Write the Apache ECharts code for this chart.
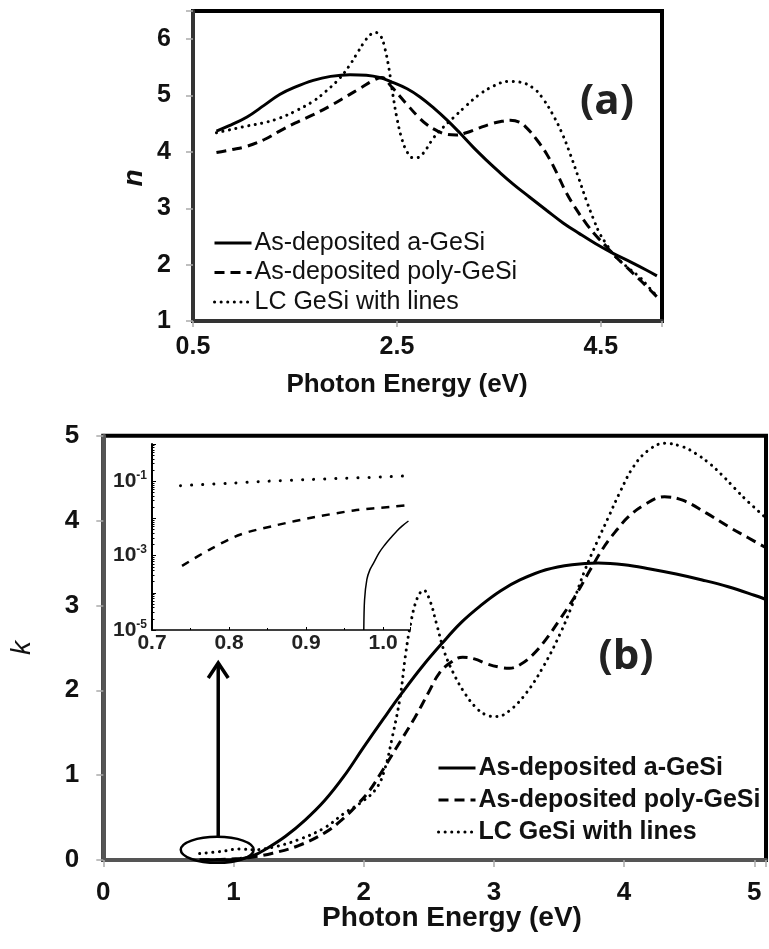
<!DOCTYPE html>
<html><head><meta charset="utf-8">
<script src="https://cdn.jsdelivr.net/npm/echarts@6/dist/echarts.min.js"></script>
<style>html,body{margin:0;padding:0;background:#fff}#c{width:769px;height:949px}</style>
</head><body><div id="c"></div>
<script>
// ---------- Series names ----------
const names = ['As-deposited a-GeSi', 'As-deposited poly-GeSi', 'LC GeSi with lines'];

// ---------- Panel (a): refractive index n ----------
const nE_a = [0.73,0.85,1.03,1.2,1.35,1.5,1.68,1.85,2.04,2.2,2.33,2.45,2.6,2.73,2.86,3.0,3.12,3.25,3.38,3.5,3.64,3.8,3.97,4.13,4.29,4.45,4.62,4.8,4.95,5.05];
const nV_a = [4.37,4.46,4.62,4.83,5.02,5.15,5.27,5.34,5.37,5.36,5.32,5.24,5.12,4.97,4.78,4.55,4.33,4.08,3.85,3.65,3.43,3.2,2.96,2.74,2.55,2.37,2.2,2.04,1.9,1.8];
const nE_p = [0.73,0.88,1.03,1.2,1.35,1.5,1.68,1.85,2.01,2.15,2.27,2.35,2.45,2.6,2.7,2.79,2.9,2.99,3.08,3.18,3.3,3.41,3.52,3.61,3.7,3.77,3.87,3.97,4.07,4.16,4.26,4.36,4.46,4.56,4.65,4.75,4.9,5.05];
const nV_p = [3.99,4.04,4.10,4.22,4.37,4.51,4.66,4.82,4.99,5.14,5.27,5.32,5.15,4.84,4.64,4.49,4.37,4.31,4.30,4.34,4.42,4.49,4.54,4.56,4.53,4.43,4.22,3.96,3.62,3.28,2.98,2.72,2.5,2.31,2.13,1.96,1.7,1.43];
const nE_l = [0.73,0.88,1.03,1.2,1.35,1.5,1.68,1.8,1.94,2.03,2.1,2.18,2.24,2.29,2.34,2.38,2.42,2.46,2.5,2.55,2.6,2.65,2.7,2.76,2.86,2.95,3.05,3.18,3.31,3.45,3.59,3.7,3.84,3.93,4.03,4.12,4.2,4.28,4.36,4.43,4.49,4.56,4.62,4.75,4.88,4.97,5.05];
const nV_l = [4.34,4.40,4.46,4.52,4.60,4.72,4.90,5.07,5.31,5.52,5.72,5.95,6.08,6.12,6.06,5.85,5.5,5.02,4.6,4.22,4.0,3.9,3.9,3.98,4.25,4.43,4.60,4.82,5.02,5.17,5.25,5.24,5.13,4.95,4.66,4.33,3.96,3.55,3.13,2.8,2.55,2.35,2.19,1.97,1.78,1.6,1.44];
const nXTicks = [0.5, 2.5, 4.5];
const nYTicks = [1, 2, 3, 4, 5, 6];

// ---------- Panel (b): extinction coefficient k ----------
const kE_a = [0.74,0.85,0.97,1.05,1.15,1.25,1.4,1.55,1.7,1.85,2.0,2.15,2.3,2.45,2.6,2.75,2.9,3.05,3.2,3.4,3.6,3.8,4.0,4.2,4.4,4.6,4.8,5.0,5.09];
const kV_a = [0,0,0.00001,0.01,0.05,0.13,0.28,0.47,0.70,0.99,1.33,1.66,1.98,2.28,2.55,2.8,3.0,3.17,3.3,3.42,3.48,3.5,3.48,3.43,3.37,3.3,3.22,3.12,3.07];
const kE_p = [0.74,0.9,1.05,1.15,1.3,1.5,1.7,1.83,1.95,2.05,2.13,2.25,2.39,2.5,2.58,2.67,2.76,2.85,2.95,3.05,3.12,3.2,3.3,3.4,3.5,3.62,3.74,3.85,3.95,4.03,4.15,4.31,4.45,4.63,4.8,4.95,5.09];
const kV_p = [0.0005,0.005,0.018,0.035,0.08,0.17,0.32,0.47,0.65,0.83,1.02,1.32,1.67,1.98,2.2,2.33,2.39,2.37,2.31,2.27,2.26,2.3,2.42,2.6,2.82,3.1,3.42,3.7,3.9,4.04,4.18,4.28,4.24,4.09,3.93,3.8,3.68];
const kE_l = [0.74,0.9,1.05,1.15,1.3,1.5,1.7,1.85,2.0,2.1,2.16,2.22,2.28,2.32,2.36,2.41,2.46,2.51,2.56,2.62,2.69,2.77,2.86,2.94,3.02,3.12,3.25,3.38,3.51,3.6,3.7,3.79,3.88,3.97,4.07,4.18,4.31,4.45,4.55,4.65,4.75,4.85,4.94,5.09];
const kV_l = [0.076,0.1,0.13,0.12,0.15,0.24,0.38,0.55,0.7,0.85,1.06,1.45,1.92,2.4,2.78,3.08,3.18,3.05,2.78,2.45,2.2,1.98,1.8,1.71,1.69,1.76,1.97,2.28,2.67,3.0,3.42,3.74,4.04,4.34,4.63,4.82,4.91,4.87,4.79,4.68,4.54,4.38,4.24,4.03];
const kXTicks = [0, 1, 2, 3, 4, 5];
const kYTicks = [0, 1, 2, 3, 4, 5];

// ---------- Inset: log k near the gap ----------
const iE_a = [0.975,0.976,0.979,0.983,0.988,0.995,1.001,1.01,1.018,1.025,1.033];
const iV_a = [1e-5,6.5e-5,2.3e-4,4.2e-4,6.5e-4,1.2e-3,1.8e-3,3.0e-3,4.6e-3,6.3e-3,8.5e-3];
const iE_p = [0.739,0.776,0.815,0.862,0.91,0.962,1.01,1.035];
const iV_p = [5.3e-4,1.5e-3,3.7e-3,6.6e-3,0.0107,0.0163,0.0205,0.023];
const iE_l = [0.737,0.8,0.85,0.9,0.95,1.0,1.035];
const iV_l = [0.076,0.088,0.1,0.11,0.12,0.13,0.14];
const insetXTicks = ['0.7', '0.8', '0.9', '1.0'];
const insetYExp = [-1, -3, -5];

// ---------- Helpers ----------
const pts = (xs, ys) => xs.map((x, i) => [x, ys[i]]);
const FONT = 'Liberation Sans, Arial, sans-serif';
const solid = {color: '#000', width: 3, type: 'solid'};
const dashed = {color: '#000', width: 3, type: [10, 6], cap: 'butt'};
const dotted = {color: '#000', width: 3, type: [0.1, 6.5], cap: 'round'};
const tickFmt = list => v => (list.some(t => Math.abs(t - v) < 1e-6) ? String(v) : '');

function lineSeries(name, data, style, xi, yi, smooth) {
  return {type: 'line', name, data, xAxisIndex: xi, yAxisIndex: yi, showSymbol: false, symbol: 'none',
    smooth: smooth, lineStyle: style, itemStyle: {color: '#000'}, animation: false, silent: true, z: 3};
}

const chart = echarts.init(document.getElementById('c'));

const option = {
  animation: false,
  backgroundColor: '#fff',
  grid: [
    {left: 193, top: 11, width: 469, height: 310, show: true, borderColor: '#000', borderWidth: 4, backgroundColor: 'transparent'},
    {left: 103.3, top: 435.7, width: 668, height: 424.3, show: true, borderColor: '#000', borderWidth: 4, backgroundColor: 'transparent'},
    {left: 152, top: 444, width: 258, height: 186, show: true, borderWidth: 0, backgroundColor: '#fff', z: 4}
  ],
  xAxis: [
    {gridIndex: 0, type: 'value', min: 0.5, max: 5.1, interval: 2,
      axisLine: {show: true, onZero: false, lineStyle: {color: '#333', width: 4}},
      axisTick: {show: true, length: 6, lineStyle: {color: '#aaa', width: 1.5}},
      axisLabel: {formatter: tickFmt(nXTicks), fontFamily: FONT, fontWeight: 'bold', fontSize: 25, color: '#111', margin: 14},
      splitLine: {show: false}},
    {gridIndex: 1, type: 'value', min: 0, max: 5.09, interval: 1,
      axisLine: {show: true, onZero: false, lineStyle: {color: '#555', width: 4}},
      axisTick: {show: true, length: 7, lineStyle: {color: '#aaa', width: 1.5}},
      axisLabel: {formatter: tickFmt(kXTicks), fontFamily: FONT, fontWeight: 'bold', fontSize: 26, color: '#111', margin: 20},
      splitLine: {show: false}},
    {gridIndex: 2, type: 'value', min: 0.7, max: 1.035, interval: 0.1, z: 5,
      axisLine: {show: true, onZero: false, lineStyle: {color: '#000', width: 1.5}},
      axisTick: {show: true, inside: true, length: 3, lineStyle: {color: '#000', width: 1}},
      minorTick: {show: true, splitNumber: 2, length: 2, lineStyle: {color: '#000'}},
      axisLabel: {formatter: v => { const s = v.toFixed(1); return (insetXTicks.includes(s) && Math.abs(v - parseFloat(s)) < 1e-6) ? s : ''; },
        fontFamily: FONT, fontWeight: 'bold', fontSize: 21, color: '#222', margin: 3},
      splitLine: {show: false}}
  ],
  yAxis: [
    {gridIndex: 0, type: 'value', min: 1, max: 6.5, interval: 1,
      axisLine: {show: true, onZero: false, lineStyle: {color: '#333', width: 4}},
      axisTick: {show: true, length: 7, lineStyle: {color: '#aaa', width: 1.5}},
      axisLabel: {formatter: tickFmt(nYTicks), fontFamily: FONT, fontWeight: 'bold', fontSize: 25, color: '#111', margin: 22},
      splitLine: {show: false}},
    {gridIndex: 1, type: 'value', min: 0, max: 5, interval: 1,
      axisLine: {show: true, onZero: false, lineStyle: {color: '#555', width: 4}},
      axisTick: {show: true, length: 7, lineStyle: {color: '#aaa', width: 1.5}},
      axisLabel: {formatter: tickFmt(kYTicks), fontFamily: FONT, fontWeight: 'bold', fontSize: 26, color: '#111', margin: 24},
      splitLine: {show: false}},
    {gridIndex: 2, type: 'log', logBase: 10, min: 1e-5, max: 1, z: 5,
      axisLine: {show: true, onZero: false, lineStyle: {color: '#000', width: 2}},
      axisTick: {show: true, inside: true, length: 4, lineStyle: {color: '#000', width: 1}},
      minorTick: {show: true, splitNumber: 9, length: 2.5, lineStyle: {color: '#000', width: 1}},
      axisLabel: {fontFamily: FONT, fontWeight: 'bold', fontSize: 21, color: '#222', margin: 5,
        formatter: v => { const e = Math.round(Math.log10(v)); return insetYExp.includes(e) ? '10{s|' + e + '}' : ''; },
        rich: {s: {fontSize: 12, fontFamily: FONT, fontWeight: 'bold', color: '#222', verticalAlign: 'top', padding: [0, 0, 11, 0]}}},
      splitLine: {show: false}}
  ],
  legend: [
    {data: names, orient: 'vertical', left: 208, top: 225, itemWidth: 37, itemHeight: 14, itemGap: 3.5, selectedMode: false,
      itemStyle: {opacity: 0}, lineStyle: {width: 3},
      textStyle: {fontFamily: FONT, fontSize: 25, color: '#111', lineHeight: 26, padding: [0, 0, 0, -2]}},
    {data: names, orient: 'vertical', left: 432, top: 750, itemWidth: 37, itemHeight: 14, itemGap: 6, selectedMode: false,
      itemStyle: {opacity: 0}, lineStyle: {width: 3},
      textStyle: {fontFamily: FONT, fontSize: 25, fontWeight: 'bold', color: '#111', lineHeight: 26, padding: [0, 0, 0, -2]}}
  ],
  series: [
    lineSeries(names[0], pts(nE_a, nV_a), solid, 0, 0, 0.4),
    lineSeries(names[1], pts(nE_p, nV_p), dashed, 0, 0, 0.4),
    lineSeries(names[2], pts(nE_l, nV_l), dotted, 0, 0, 0.4),
    lineSeries(names[0], pts(kE_a, kV_a), solid, 1, 1, 0.4),
    lineSeries(names[1], pts(kE_p, kV_p), dashed, 1, 1, 0.4),
    lineSeries(names[2], pts(kE_l, kV_l), dotted, 1, 1, 0.4),
    Object.assign(lineSeries('inset a-GeSi', pts(iE_a, iV_a), {color: '#000', width: 1.5}, 2, 2, 0.3), {z: 6}),
    Object.assign(lineSeries('inset poly-GeSi', pts(iE_p, iV_p), {color: '#000', width: 2.5, type: [8, 7]}, 2, 2, 0.3), {z: 6}),
    Object.assign(lineSeries('inset LC GeSi', pts(iE_l, iV_l), {color: '#000', width: 3, type: [0.1, 11], cap: 'round'}, 2, 2, 0.3), {z: 6})
  ]
};
chart.setOption(option);

// ---------- Annotations ----------
const c = chart.convertToPixel({gridIndex: 1}, [0.875, 0.12]);
const r = chart.convertToPixel({gridIndex: 1}, [0.875 + 0.28, 0.12 + 0.153]);
const rx = r[0] - c[0], ry = c[1] - r[1];
const tipY = chart.convertToPixel({gridIndex: 2}, [0.8, 1e-5])[1] + 33;
const arrowX = c[0] + 1;
chart.setOption({
  graphic: [
    {type: 'ellipse', shape: {cx: c[0], cy: c[1], rx: rx, ry: ry}, style: {fill: 'none', stroke: '#000', lineWidth: 2.5}, z: 10},
    {type: 'line', shape: {x1: arrowX, y1: c[1] - ry, x2: arrowX, y2: tipY + 2}, style: {stroke: '#000', lineWidth: 3.5}, z: 10},
    {type: 'polyline', shape: {points: [[arrowX - 10, tipY + 15], [arrowX, tipY], [arrowX + 10, tipY + 15]]}, style: {fill: 'none', stroke: '#000', lineWidth: 3.5}, z: 10},
    {type: 'text', x: 607, y: 102, style: {text: '(a)', font: 'bold 42px "Open Sans", sans-serif', fill: '#222', align: 'center', verticalAlign: 'middle'}, z: 10},
    {type: 'text', x: 626, y: 657, style: {text: '(b)', font: 'bold 42px "Open Sans", sans-serif', fill: '#222', align: 'center', verticalAlign: 'middle'}, z: 10},
    {type: 'text', x: 407, y: 385, style: {text: 'Photon Energy (eV)', font: 'bold 26px ' + FONT, fill: '#111', align: 'center', verticalAlign: 'middle'}, z: 10},
    {type: 'text', x: 452, y: 918, style: {text: 'Photon Energy (eV)', font: 'bold 28px ' + FONT, fill: '#111', align: 'center', verticalAlign: 'middle'}, z: 10},
    {type: 'text', x: 134, y: 178, rotation: Math.PI / 2, style: {text: 'n', font: 'italic bold 28px ' + FONT, fill: '#111', align: 'center', verticalAlign: 'middle'}, z: 10},
    {type: 'text', x: 22, y: 648, rotation: Math.PI / 2, style: {text: 'k', font: 'italic 28px ' + FONT, fill: '#111', align: 'center', verticalAlign: 'middle'}, z: 10}
  ]
});
</script>
</body></html>
